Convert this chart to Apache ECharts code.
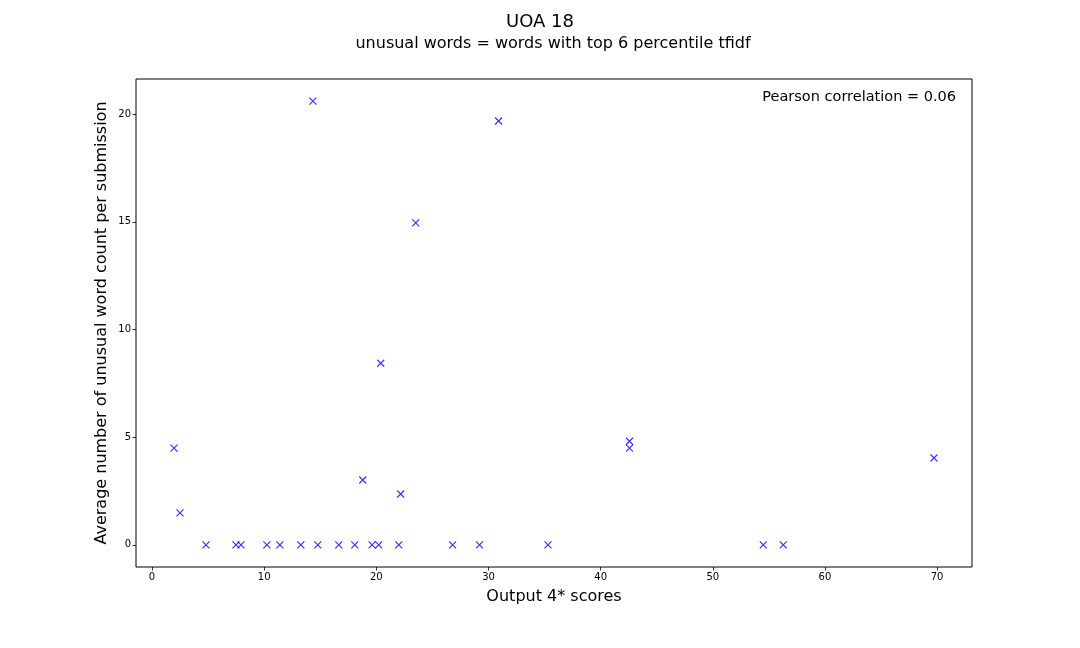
<!DOCTYPE html>
<html>
<head>
<meta charset="utf-8">
<script src="https://cdn.jsdelivr.net/npm/echarts@6/dist/echarts.min.js"></script>
<style>
  html, body { margin: 0; padding: 0; background: #fff; }
  #chart { width: 1080px; height: 648px; }
</style>
</head>
<body>
<div id="chart"></div>
<script>
// scores on x, average unusual word counts on y
var outputScores = [1.96, 2.49, 4.81, 7.48, 7.93, 10.24, 11.40, 13.27, 14.34, 14.78,
  16.65, 18.08, 18.79, 19.62, 20.21, 20.39, 22.0, 22.17, 23.51, 26.8,
  29.2, 30.9, 35.3, 42.57, 42.57, 54.5, 56.28, 69.72];
var unusualCounts = [4.49, 1.48, 0, 0, 0, 0, 0, 0, 20.6, 0,
  0, 0, 3.01, 0, 0, 8.43, 0, 2.36, 14.95, 0,
  0, 19.68, 0, 4.81, 4.49, 0, 0, 4.03];
var xTicks = [0, 10, 20, 30, 40, 50, 60, 70];
var yTicks = [0, 5, 10, 15, 20];
var pearson = 0.06;

var font = 'DejaVu Sans';
var points = outputScores.map(function (x, i) { return [x, unusualCounts[i]]; });

function axisBase(ticks, min, max) {
  return {
    type: 'value',
    min: min,
    max: max,
    splitLine: {show: false},
    axisLine: {show: false, onZero: false},
    axisTick: {show: true, inside: false, length: 3.5, customValues: ticks,
      lineStyle: {color: '#000', width: 0.8}},
    axisLabel: {customValues: ticks, color: '#000', fontFamily: font, fontSize: 10, margin: 5},
    nameTextStyle: {color: '#000', fontFamily: font, fontSize: 16}
  };
}

var xAxis = axisBase(xTicks, -1.43, 73.11);
xAxis.name = 'Output 4* scores';
xAxis.nameLocation = 'middle';
xAxis.nameGap = 22;

var yAxis = axisBase(yTicks, -1.03, 21.63);

var chart = echarts.init(document.getElementById('chart'));
chart.setOption({
  animation: false,
  backgroundColor: '#fff',
  grid: {left: 136, right: 108, top: 79, bottom: 81, show: true,
    borderColor: '#000', borderWidth: 1, backgroundColor: '#fff'},
  xAxis: xAxis,
  yAxis: yAxis,
  graphic: [
    {type: 'text', x: 540, y: 13,
      style: {text: 'UOA 18', fill: '#000', font: '18px "DejaVu Sans"', align: 'center'}},
    {type: 'text', x: 553, y: 36,
      style: {text: 'unusual words = words with top 6 percentile tfidf', fill: '#000',
        font: '16px "DejaVu Sans"', align: 'center'}},
    {type: 'text', right: 124, top: 90,
      style: {text: 'Pearson correlation = ' + pearson.toFixed(2), fill: '#000',
        font: '14.5px "DejaVu Sans"'}},
    {type: 'text', x: 102, y: 323, rotation: Math.PI / 2,
      style: {text: 'Average number of unusual word count per submission', fill: '#000',
        font: '16px "DejaVu Sans"', align: 'center', verticalAlign: 'middle'}}
  ],
  series: [{
    type: 'scatter',
    data: points,
    symbol: 'path://M0,0L10,10M10,0L0,10',
    symbolSize: 7,
    itemStyle: {color: 'none', borderColor: '#0000ff', borderWidth: 1.2}
  }]
});
</script>
</body>
</html>
